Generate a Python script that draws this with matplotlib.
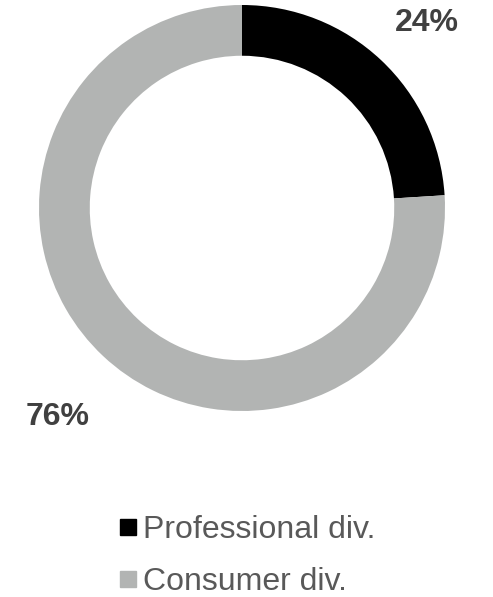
import numpy as np
import matplotlib.pyplot as plt
from matplotlib.lines import Line2D

plt.rcParams['font.family'] = ['Liberation Sans', 'DejaVu Sans']

divisions = ["Professional div.", "Consumer div."]
shares = [24, 76]
colors = ["#000000", "#b2b4b3"]


def plotDonut():
    fig = plt.figure(figsize=(4.93, 5.97), dpi=100)
    ax = fig.add_axes([39 / 493, 186 / 597, 406 / 493, 406 / 597])

    wedges, _ = ax.pie(shares, colors=colors, startangle=90, counterclock=False,
                       radius=1.0, wedgeprops=dict(width=0.25, linewidth=0))
    ax.set_xlim(-1, 1)
    ax.set_ylim(-1, 1)
    ax.set_aspect("equal")
    ax.axis("off")

    # percentage labels outside the ring
    for w, s in zip(wedges, shares):
        ang = np.deg2rad((w.theta1 + w.theta2) / 2)
        ax.annotate(str(s) + "%", (1.33 * np.cos(ang), 1.33 * np.sin(ang)),
                    xytext=(0, -8.5), textcoords="offset points",
                    ha="center", va="center", fontsize=23, fontweight="bold",
                    color="#404040", annotation_clip=False)

    handles = [Line2D([], [], marker="s", linestyle="none", markersize=12,
                      markerfacecolor=c, markeredgecolor=c) for c in colors]
    fig.legend(handles, divisions, loc="center", bbox_to_anchor=(247 / 493, 1 - 556 / 597),
               frameon=False, fontsize=23, labelcolor="#595959",
               handlelength=0.6, handletextpad=0.15, labelspacing=0.68, borderpad=0)

    plt.savefig("out.png", dpi=100)
    plt.close()


if __name__ == "__main__":
    plotDonut()
